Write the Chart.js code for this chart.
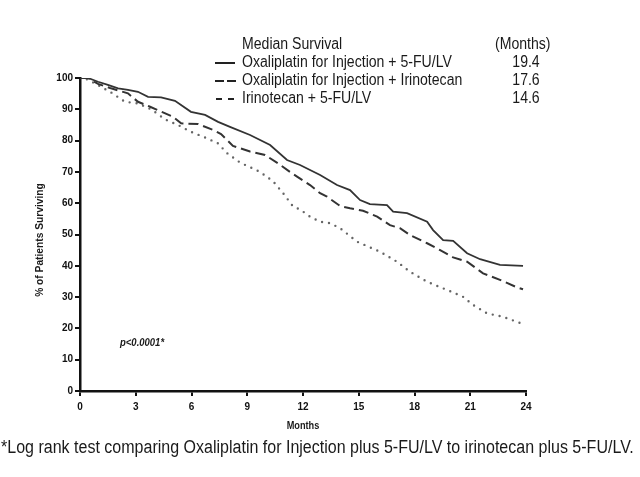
<!DOCTYPE html>
<html>
<head>
<meta charset="utf-8">
<script src="https://cdn.jsdelivr.net/npm/chart.js@4/dist/chart.umd.min.js"></script>
<style>
html,body{margin:0;padding:0;background:#fff;}
#wrap{position:relative;width:640px;height:477px;}
</style>
</head>
<body>
<div id="wrap"><canvas id="c" width="640" height="477"></canvas></div>
<script>
const FONT = "'Liberation Sans Narrow','Arial Narrow','Liberation Sans',Arial,sans-serif";

const xTicks = [0, 3, 6, 9, 12, 15, 18, 21, 24];
const yTicks = [0, 10, 20, 30, 40, 50, 60, 70, 80, 90, 100];

const seriesNames = [
  "Oxaliplatin for Injection + 5-FU/LV",
  "Oxaliplatin for Injection + Irinotecan",
  "Irinotecan + 5-FU/LV"
];
const medians = ["19.4", "17.6", "14.6"];

const oxFuMonths = [0,0.43,0.97,1.5,2.05,2.58,3.12,3.66,4.36,5.11,5.97,6.73,7.43,8.07,9.15,10.23,11.14,11.84,12.92,13.83,14.53,15.07,15.6,16.52,16.85,17.6,18.68,19.0,19.54,20.08,20.83,21.53,22.6,23.84];
const oxFuSurv   = [100,100,98.8,97.8,96.7,96.2,95.6,94,93.8,92.7,89.2,88.2,86,84.4,81.8,78.6,73.8,72.2,69,65.8,64.2,61,59.7,59.4,57.3,56.8,54.1,51.4,48.2,48,44,42.1,40.3,40];

const oxIrMonths = [0,0.43,0.97,1.67,2.58,3.12,3.77,5.0,5.44,6.35,7.16,7.59,8.23,9.15,9.96,10.66,11.3,11.68,12.38,12.92,13.29,14.0,14.53,15.23,15.99,16.68,17.22,17.76,18.68,19.38,20.08,20.83,21.69,22.6,23.52,23.84];
const oxIrSurv   = [100,100,98.1,96.7,95.1,92.4,90.8,87.6,85.5,85.3,83.4,82.1,78.3,76.5,75.4,72.7,70,68.5,65.8,63.2,62.1,59.1,58.4,57.6,55.7,53,52,49.8,47.2,45,42.7,41.3,37.6,35.5,33.1,32.5];

const irFuMonths = [0,0.43,1.67,2.42,3.12,3.82,4.14,4.57,5.27,5.97,6.73,7.43,7.91,8.61,9.69,10.39,10.93,11.46,11.84,12.38,12.92,13.46,14.0,14.91,16.15,17.06,17.76,18.68,19.75,20.61,21.15,21.9,22.77,23.84];
const irFuSurv   = [100,99.5,95.4,92.4,91.9,90,88.7,86.8,85,82.8,81,79.1,76,73,70,67,63.2,59,58,55.7,54.1,53.6,52,47.7,44.5,41.3,38.1,34.9,32.3,30.1,27.5,24.8,23.7,21.4];

function pts(xs, ys){ return xs.map((x,i)=>({x:x, y:ys[i]})); }

function narrowText(ctx, text, x, y, k, align){
  ctx.save();
  ctx.translate(x, y);
  ctx.scale(k, 1);
  ctx.textAlign = align || 'left';
  ctx.fillText(text, 0, 0);
  ctx.restore();
}

const annotations = {
  id: 'annot',
  afterDraw(chart){
    const ctx = chart.ctx;
    ctx.save();
    ctx.fillStyle = '#1a1a1a';
    ctx.textBaseline = 'middle';
    const K = 0.88;
    ctx.font = "16px " + FONT;
    narrowText(ctx, "Median Survival", 242, 45, K);
    narrowText(ctx, "(Months)", 495, 45, K);
    const rowsY = [63, 81, 99];
    for (let i = 0; i < 3; i++) {
      narrowText(ctx, seriesNames[i], 242, rowsY[i], K);
      narrowText(ctx, medians[i], 526, rowsY[i], K, 'center');
    }
    ctx.strokeStyle = '#222';
    ctx.lineWidth = 2;
    ctx.beginPath(); ctx.moveTo(215, rowsY[0]); ctx.lineTo(235, rowsY[0]); ctx.stroke();
    ctx.beginPath(); ctx.moveTo(215, rowsY[1]); ctx.lineTo(224, rowsY[1]);
    ctx.moveTo(227, rowsY[1]); ctx.lineTo(236, rowsY[1]); ctx.stroke();
    ctx.beginPath(); ctx.moveTo(216, rowsY[2]); ctx.lineTo(222, rowsY[2]);
    ctx.moveTo(228, rowsY[2]); ctx.lineTo(234, rowsY[2]); ctx.stroke();

    ctx.font = "italic bold 10px " + FONT;
    narrowText(ctx, "p<0.0001*", 120, 343, 0.95);

    ctx.font = "bold 10px " + FONT;
    narrowText(ctx, "Months", 303, 426, 0.92, 'center');

    ctx.font = "bold 11px " + FONT;
    ctx.save();
    ctx.translate(40, 240);
    ctx.rotate(-Math.PI/2);
    ctx.scale(0.93, 1);
    ctx.textAlign = 'center';
    ctx.fillText("% of Patients Surviving", 0, 0);
    ctx.restore();

    ctx.font = "18px " + FONT;
    narrowText(ctx, "*Log rank test comparing Oxaliplatin for Injection plus 5-FU/LV to irinotecan plus 5-FU/LV.", 1, 448, 0.89);
    ctx.restore();
  }
};

new Chart(document.getElementById('c'), {
  type: 'line',
  data: {
    datasets: [
      { label: seriesNames[0], data: pts(oxFuMonths, oxFuSurv), borderColor: '#333', borderWidth: 1.8, pointRadius: 0, tension: 0, fill: false },
      { label: seriesNames[1], data: pts(oxIrMonths, oxIrSurv), borderColor: '#333', borderWidth: 2, borderDash: [10, 5], pointRadius: 0, tension: 0, fill: false },
      { label: seriesNames[2], data: pts(irFuMonths, irFuSurv), borderColor: '#666', borderWidth: 2.4, borderDash: [0, 7], borderCapStyle: 'round', pointRadius: 0, tension: 0, fill: false }
    ]
  },
  options: {
    responsive: false,
    animation: false,
    devicePixelRatio: 1,
    layout: { padding: { left: 0, right: 114, top: 78, bottom: 56 } },
    plugins: { legend: { display: false }, tooltip: { enabled: false }, title: { display: false } },
    scales: {
      x: {
        type: 'linear', min: 0, max: 24,
        afterBuildTicks(s){ s.ticks = xTicks.map(v=>({value:v})); },
        afterFit(s){ s.height = 30; },
        grid: { display: true, drawOnChartArea: false, drawTicks: true, tickLength: 5, color: '#111', lineWidth: 2 },
        border: { display: true, color: '#111', width: 2.5 },
        ticks: { color: '#111', font: { family: FONT, size: 10, weight: 'bold' }, padding: 5, maxRotation: 0, autoSkip: false }
      },
      y: {
        min: 0, max: 100,
        afterBuildTicks(s){ s.ticks = yTicks.map(v=>({value:v})); },
        afterFit(s){ s.width = 80; },
        grid: { display: true, drawOnChartArea: false, drawTicks: true, tickLength: 5, color: '#111', lineWidth: 2 },
        border: { display: true, color: '#111', width: 2.5 },
        ticks: { color: '#111', font: { family: FONT, size: 10, weight: 'bold' }, padding: 2, autoSkip: false }
      }
    }
  },
  plugins: [annotations]
});
</script>
</body>
</html>
